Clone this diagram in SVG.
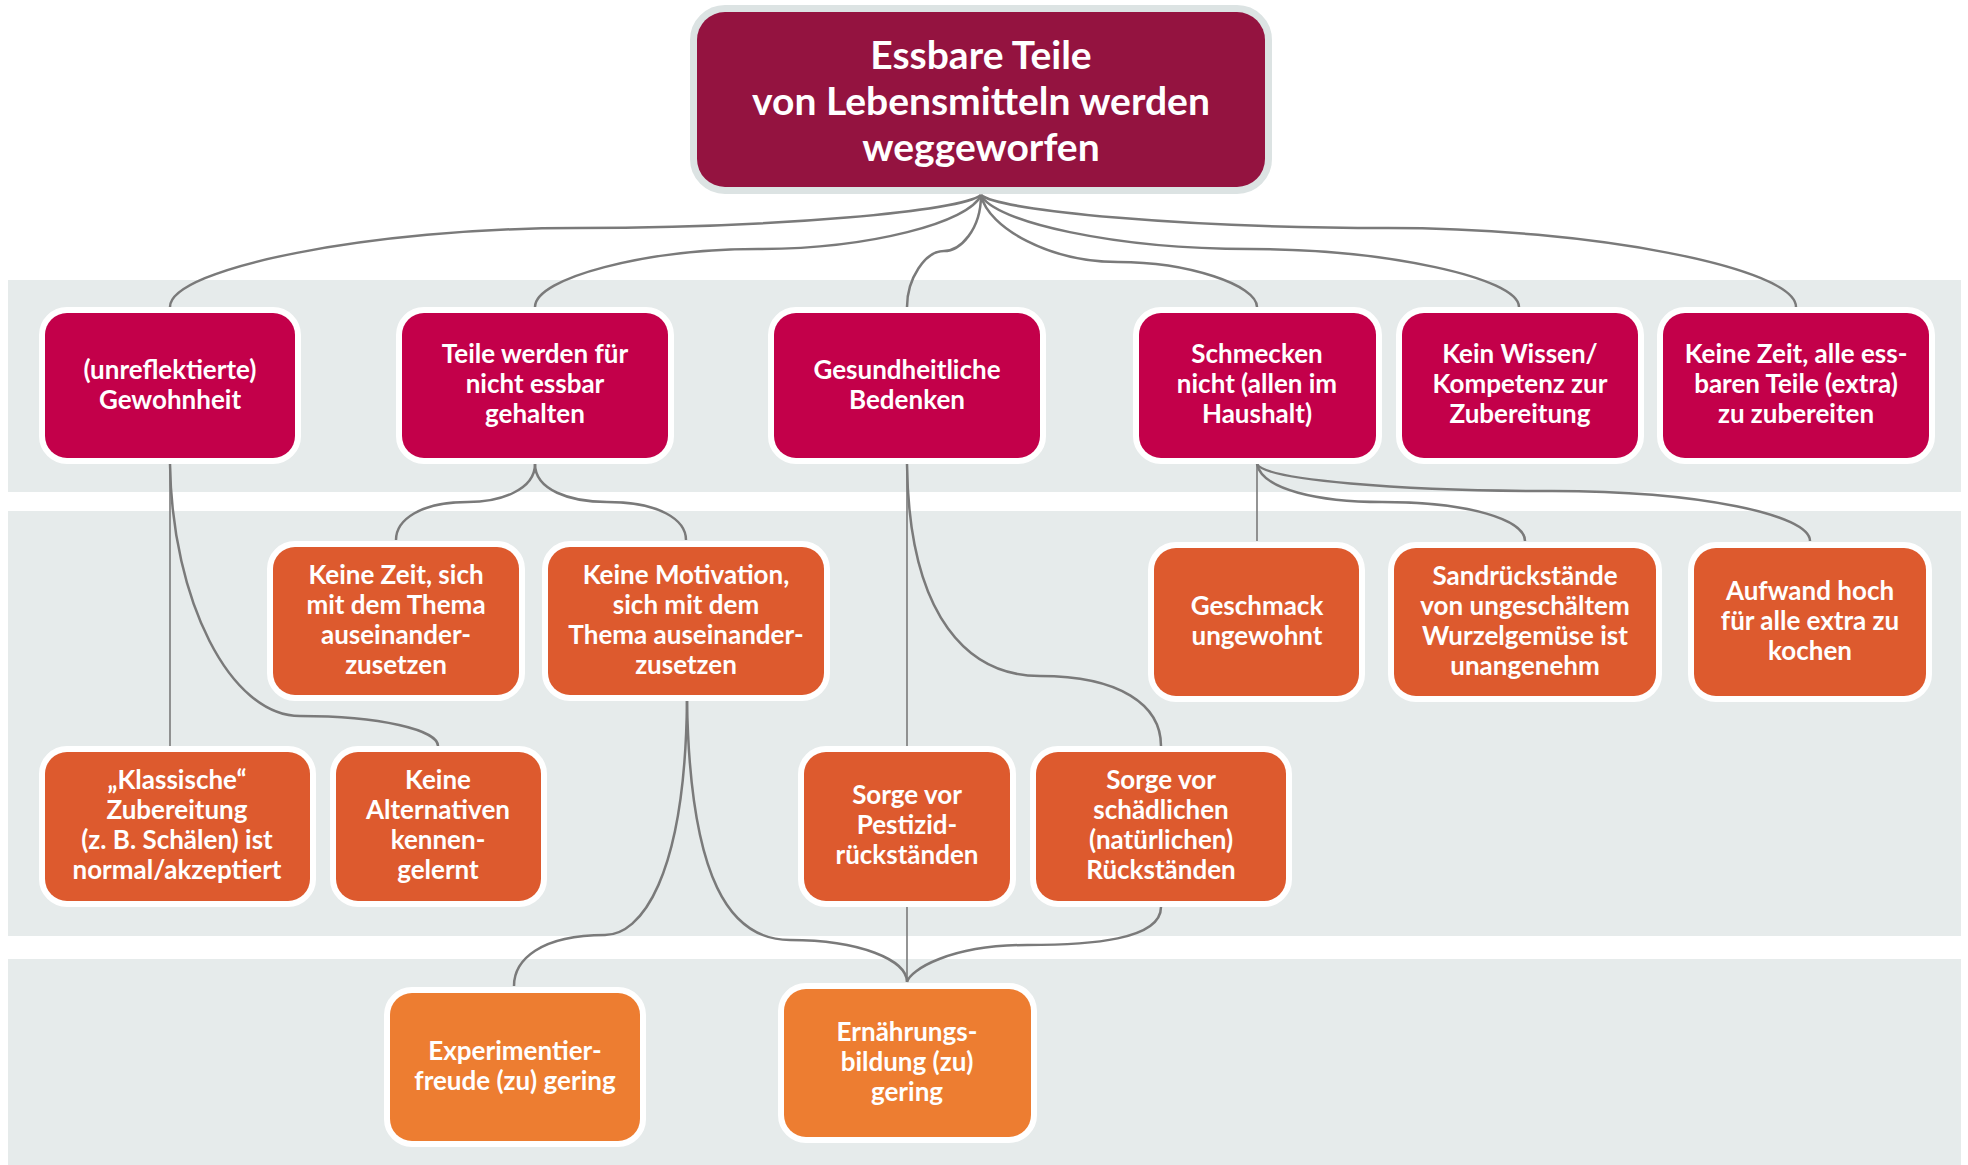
<svg xmlns="http://www.w3.org/2000/svg" width="1968" height="1165" viewBox="0 0 1968 1165">
<style>
.band{fill:#E6EBEB}
.n{stroke:#fff;stroke-width:12;paint-order:stroke}
.root{fill:#941340;stroke:#DCE3E3;stroke-width:14;paint-order:stroke}
.l1{fill:#C3004A}
.l2{fill:#DD5A2E}
.l4{fill:#ED7D31}
.c{fill:none;stroke:#7a7a7a;stroke-width:2.5}
.s{fill:none;stroke:#7a7a7a;stroke-width:1.6}
text{font-family:Lato,"Open Sans","Liberation Sans",sans-serif;font-weight:700;fill:#fff;text-anchor:middle;font-size:26px}
.rt{font-size:39px}
</style>
<rect class="band" x="8" y="280" width="1953" height="212"/>
<rect class="band" x="8" y="511" width="1953" height="425"/>
<rect class="band" x="8" y="959" width="1953" height="206"/>
<g id="connectors">
<path class="c" d="M981,195 C961,211 778,228 576,228 C373,228 170,268 170,307"/>
<path class="c" d="M981,195 C970,222 870,249 758,249 C646,249 535,278 535,307"/>
<path class="c" d="M981,195 C981,230 960,251 944,251 C925,251 907,279 907,307"/>
<path class="c" d="M981,195 C988,228 1050,262 1118,262 C1188,262 1257,285 1257,307"/>
<path class="c" d="M981,195 C994,222 1115,249 1250,249 C1385,249 1519,278 1519,307"/>
<path class="c" d="M981,195 C1001,211 1185,228 1388,228 C1592,228 1796,268 1796,307"/>
<path class="s" d="M170,464 L170,746"/>
<path class="c" d="M170,464 C172,600 230,716 300,716 C380,716 438,730 438,746"/>
<path class="c" d="M535,464 C535,490 500,502 468,502 C420,502 396,520 396,540"/>
<path class="c" d="M535,464 C535,490 570,502 607,502 C660,502 686,520 686,540"/>
<path class="c" d="M687,701 C685,880 640,935 605,935 C540,935 514,960 514,986"/>
<path class="c" d="M687,701 C690,880 730,940 790,940 C860,940 907,960 907,982"/>
<path class="s" d="M907,464 L907,746"/>
<path class="c" d="M907,464 C909,620 970,676 1040,676 C1120,676 1161,705 1161,746"/>
<path class="s" d="M907,907 L907,982"/>
<path class="c" d="M1161,907 C1161,940 1090,945 1027,945 C950,945 910,970 907,982"/>
<path class="s" d="M1257,464 L1257,541"/>
<path class="c" d="M1257,464 C1262,490 1320,502 1382,502 C1470,502 1525,520 1525,541"/>
<path class="c" d="M1257,464 C1265,480 1400,491 1552,491 C1700,491 1810,515 1810,541"/>
</g>
<g id="root">
<rect class="root" x="697" y="12" width="568" height="175" rx="28"/>
<text class="rt" x="981" y="69">Essbare Teile</text>
<text class="rt" x="981" y="115">von Lebensmitteln werden</text>
<text class="rt" x="981" y="161">weggeworfen</text>
</g>
<g id="n-gewohnheit">
<rect class="n l1" x="45" y="313" width="250" height="145" rx="22"/>
<text x="170" y="379">(unreflektierte)</text>
<text x="170" y="409">Gewohnheit</text>
</g>
<g id="n-teile">
<rect class="n l1" x="402" y="313" width="266" height="145" rx="22"/>
<text x="535" y="363">Teile werden für</text>
<text x="535" y="393">nicht essbar</text>
<text x="535" y="423">gehalten</text>
</g>
<g id="n-gesundheit">
<rect class="n l1" x="774" y="313" width="266" height="145" rx="22"/>
<text x="907" y="379">Gesundheitliche</text>
<text x="907" y="409">Bedenken</text>
</g>
<g id="n-schmecken">
<rect class="n l1" x="1139" y="313" width="237" height="145" rx="22"/>
<text x="1257" y="363">Schmecken</text>
<text x="1257" y="393">nicht (allen im</text>
<text x="1257" y="423">Haushalt)</text>
</g>
<g id="n-wissen">
<rect class="n l1" x="1402" y="313" width="236" height="145" rx="22"/>
<text x="1520" y="363">Kein Wissen/</text>
<text x="1520" y="393">Kompetenz zur</text>
<text x="1520" y="423">Zubereitung</text>
</g>
<g id="n-keinezeit-alle">
<rect class="n l1" x="1663" y="313" width="266" height="145" rx="22"/>
<text x="1796" y="363">Keine Zeit, alle ess-</text>
<text x="1796" y="393">baren Teile (extra)</text>
<text x="1796" y="423">zu zubereiten</text>
</g>
<g id="n-keinezeit">
<rect class="n l2" x="273" y="547" width="246" height="148" rx="22"/>
<text x="396" y="584">Keine Zeit, sich</text>
<text x="396" y="614">mit dem Thema</text>
<text x="396" y="644">auseinander-</text>
<text x="396" y="674">zusetzen</text>
</g>
<g id="n-motivation">
<rect class="n l2" x="548" y="547" width="276" height="148" rx="22"/>
<text x="686" y="584">Keine Motivation,</text>
<text x="686" y="614">sich mit dem</text>
<text x="686" y="644">Thema auseinander-</text>
<text x="686" y="674">zusetzen</text>
</g>
<g id="n-geschmack">
<rect class="n l2" x="1154" y="548" width="205" height="148" rx="22"/>
<text x="1257" y="615">Geschmack</text>
<text x="1257" y="645">ungewohnt</text>
</g>
<g id="n-sand">
<rect class="n l2" x="1394" y="548" width="262" height="148" rx="22"/>
<text x="1525" y="585">Sandrückstände</text>
<text x="1525" y="615">von ungeschältem</text>
<text x="1525" y="645">Wurzelgemüse ist</text>
<text x="1525" y="675">unangenehm</text>
</g>
<g id="n-aufwand">
<rect class="n l2" x="1694" y="548" width="232" height="148" rx="22"/>
<text x="1810" y="600">Aufwand hoch</text>
<text x="1810" y="630">für alle extra zu</text>
<text x="1810" y="660">kochen</text>
</g>
<g id="n-klassisch">
<rect class="n l2" x="45" y="752" width="265" height="149" rx="22"/>
<text x="177" y="789">„Klassische“</text>
<text x="177" y="819">Zubereitung</text>
<text x="177" y="849">(z. B. Schälen) ist</text>
<text x="177" y="879">normal/akzeptiert</text>
</g>
<g id="n-alternativen">
<rect class="n l2" x="336" y="752" width="205" height="149" rx="22"/>
<text x="438" y="789">Keine</text>
<text x="438" y="819">Alternativen</text>
<text x="438" y="849">kennen-</text>
<text x="438" y="879">gelernt</text>
</g>
<g id="n-pestizid">
<rect class="n l2" x="804" y="752" width="206" height="149" rx="22"/>
<text x="907" y="804">Sorge vor</text>
<text x="907" y="834">Pestizid-</text>
<text x="907" y="864">rückständen</text>
</g>
<g id="n-schaedlich">
<rect class="n l2" x="1036" y="752" width="250" height="149" rx="22"/>
<text x="1161" y="789">Sorge vor</text>
<text x="1161" y="819">schädlichen</text>
<text x="1161" y="849">(natürlichen)</text>
<text x="1161" y="879">Rückständen</text>
</g>
<g id="n-experiment">
<rect class="n l4" x="390" y="993" width="250" height="148" rx="22"/>
<text x="515" y="1060">Experimentier-</text>
<text x="515" y="1090">freude (zu) gering</text>
</g>
<g id="n-ernaehrung">
<rect class="n l4" x="784" y="989" width="247" height="148" rx="22"/>
<text x="907" y="1041">Ernährungs-</text>
<text x="907" y="1071">bildung (zu)</text>
<text x="907" y="1101">gering</text>
</g>
</svg>
